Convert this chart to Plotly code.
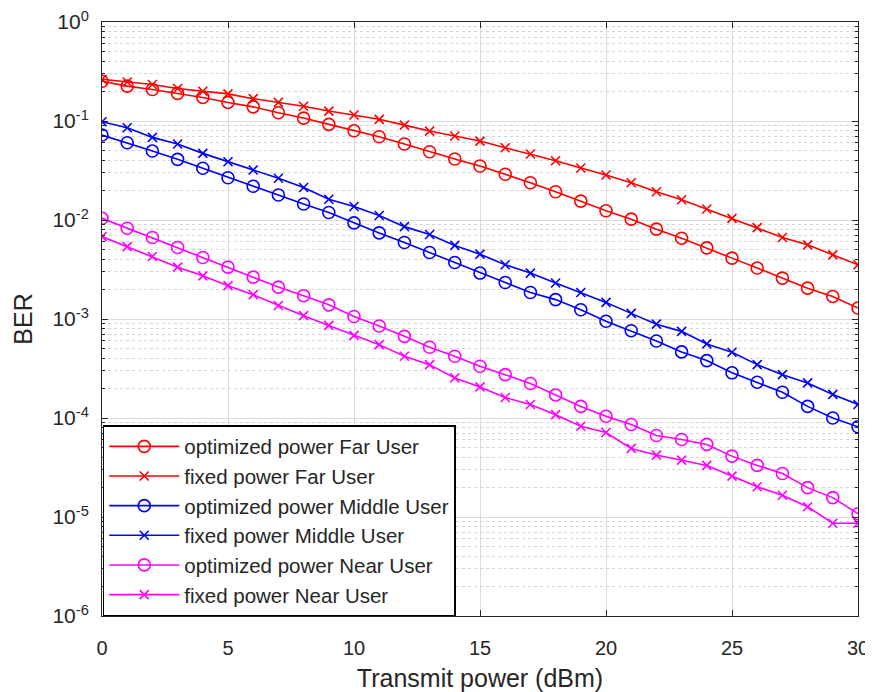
import plotly.graph_objects as go

power_dbm = list(range(0, 31))

far_opt = [0.252, 0.225, 0.208, 0.190, 0.173, 0.154, 0.139, 0.121, 0.107, 0.0924,
           0.0796, 0.0693, 0.0585, 0.0489, 0.0413, 0.0351, 0.0290, 0.0238, 0.0193, 0.0155,
           0.0124, 0.0102, 0.00808, 0.00655, 0.00523, 0.00412, 0.00327, 0.00259, 0.00205, 0.00169,
           0.00129]
far_fixed = [0.264, 0.248, 0.234, 0.213, 0.200, 0.188, 0.168, 0.154, 0.141, 0.126,
             0.115, 0.104, 0.0909, 0.0791, 0.0705, 0.0627, 0.0537, 0.0464, 0.0397, 0.0335,
             0.0285, 0.0238, 0.0193, 0.0160, 0.0129, 0.0104, 0.00838, 0.00665, 0.00561, 0.00445,
             0.00353]
mid_opt = [0.0721, 0.0603, 0.0497, 0.0410, 0.0333, 0.0267, 0.0219, 0.0179, 0.0145, 0.0119,
           0.00935, 0.00741, 0.00592, 0.00469, 0.00372, 0.00291, 0.00234, 0.00185, 0.00157, 0.00124,
           0.000950, 0.000762, 0.000600, 0.000465, 0.000380, 0.000286, 0.000230, 0.000182, 0.000131, 0.000100,
           0.0000815]
mid_fixed = [0.0982, 0.0854, 0.0683, 0.0585, 0.0471, 0.0388, 0.0320, 0.0264, 0.0213, 0.0162,
             0.0137, 0.0111, 0.00857, 0.00713, 0.00554, 0.00452, 0.00353, 0.00291, 0.00231, 0.00185,
             0.00147, 0.00114, 0.000887, 0.000750, 0.000560, 0.000461, 0.000346, 0.000274, 0.000226, 0.000173,
             0.000137]
near_opt = [0.0104, 0.00826, 0.00665, 0.00527, 0.00418, 0.00334, 0.00265, 0.00210, 0.00172, 0.00139,
            0.00106, 0.000850, 0.000668, 0.000518, 0.000420, 0.000333, 0.000274, 0.000223, 0.000171, 0.000131,
            0.000104, 0.0000859, 0.0000666, 0.0000607, 0.0000541, 0.0000412, 0.0000332, 0.0000275, 0.0000198, 0.0000157,
            0.0000108]
near_fixed = [0.00680, 0.00539, 0.00428, 0.00334, 0.00273, 0.00217, 0.00176, 0.00137, 0.00108, 0.000861,
              0.000684, 0.000551, 0.000420, 0.000346, 0.000254, 0.000206, 0.000161, 0.000137, 0.000108, 0.0000826,
              0.0000714, 0.0000493, 0.0000422, 0.0000376, 0.0000332, 0.0000259, 0.0000202, 0.0000166, 0.0000127, 0.00000865,
              0.00000865]

x_ticks = [0, 5, 10, 15, 20, 25, 30]
y_tick_vals = [1e-6, 1e-5, 1e-4, 1e-3, 1e-2, 1e-1, 1e0]
y_tick_text = ["10<sup>-6</sup>", "10<sup>-5</sup>", "10<sup>-4</sup>", "10<sup>-3</sup>",
               "10<sup>-2</sup>", "10<sup>-1</sup>", "10<sup>0</sup>"]

series = [
    ("optimized power Far User", far_opt, "#FF0000", "circle-open"),
    ("fixed power Far User", far_fixed, "#FF0000", "x-thin-open"),
    ("optimized power Middle User", mid_opt, "#0000FF", "circle-open"),
    ("fixed power Middle User", mid_fixed, "#0000FF", "x-thin-open"),
    ("optimized power Near User", near_opt, "#FF00FF", "circle-open"),
    ("fixed power Near User", near_fixed, "#FF00FF", "x-thin-open"),
]

fig = go.Figure()
for name, vals, color, sym in series:
    is_circle = sym.startswith("circle")
    fig.add_trace(go.Scatter(
        x=power_dbm, y=vals, name=name, mode="lines+markers",
        line=dict(color=color, width=1.6),
        marker=dict(symbol=sym, size=12 if is_circle else 9,
                    color=color, line=dict(color=color, width=1.6)),
    ))

axis_color = "#262626"
# The page body has an 8px margin, so the figure is offset by 8px in the window.
fig.update_layout(
    width=865, height=684,
    margin=dict(l=94, r=15, t=14, b=76),
    paper_bgcolor="white", plot_bgcolor="white",
    font=dict(family="Liberation Sans, Arial, sans-serif", size=20, color=axis_color),
    showlegend=True,
    legend=dict(
        x=0.001, y=0.0, xanchor="left", yanchor="bottom",
        bgcolor="white", bordercolor="#000000", borderwidth=1.5,
        font=dict(size=20.5, color=axis_color),
        itemwidth=70, tracegroupgap=0,
    ),
)
fig.update_xaxes(
    range=[0, 30], tickvals=x_ticks,
    showline=True, linecolor=axis_color, linewidth=1, mirror="allticks",
    ticks="inside", ticklen=6, tickcolor=axis_color,
    showgrid=True, gridcolor="#dcdcdc", gridwidth=1,
    zeroline=False, automargin=False, ticklabeloverflow="allow",
    tickfont=dict(size=20), ticklabelstandoff=14,
    title=dict(text="Transmit power (dBm)", font=dict(size=25), standoff=12),
)
fig.update_yaxes(
    type="log", range=[-6, 0], tickvals=y_tick_vals, ticktext=y_tick_text,
    showline=True, linecolor=axis_color, linewidth=1, mirror="allticks",
    ticks="inside", ticklen=6, tickcolor=axis_color,
    showgrid=True, gridcolor="#dcdcdc", gridwidth=1,
    minor=dict(dtick="D1", ticks="inside", ticklen=3, tickcolor=axis_color,
               showgrid=True, gridcolor="#d4d4d4", griddash="dot", gridwidth=1),
    zeroline=False, automargin=False, ticklabeloverflow="allow",
    tickfont=dict(size=21), ticklabelstandoff=8,
    title=dict(text="BER", font=dict(size=25), standoff=12),
)

fig.write_html("out.html")
